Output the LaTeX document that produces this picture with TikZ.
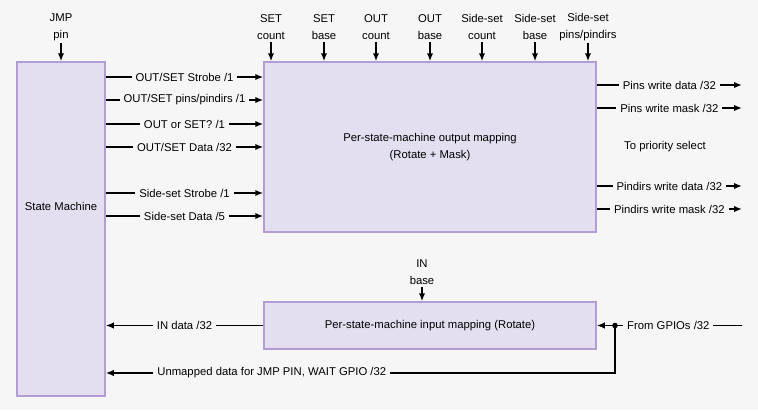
\documentclass[tikz,border=0pt]{standalone}
\usepackage{fontspec}
\setmainfont{Liberation Sans}
\usepackage{xcolor}
\usetikzlibrary{positioning, arrows.meta}
\definecolor{fondo}{HTML}{F6F6F6}
\definecolor{caja}{HTML}{E3DFF0}
\definecolor{borde}{HTML}{B29ED4}

\begin{document}
\begin{tikzpicture}[
    x=1pt, y=-1pt,
    every node/.style={font=\fontsize{11.3}{17}\selectfont, align=center, inner sep=2pt},
    box/.style={draw=borde, fill=caja, line width=1.5pt},
    lbl/.style={fill=fondo, inner xsep=4pt},
    sig/.style={line width=1.9pt, black},
    >={Latex[length=8pt, width=6.5pt]} % punta de flecha
]
\useasboundingbox[fill=fondo] (0,0) rectangle (758,410);

% Cajas
\node[box, minimum width=88pt, minimum height=334pt] (sm) at (61,229) {};
\node (smtxt) at (61,206) {State Machine};
\node[box, minimum width=332pt, minimum height=170pt] (outmap) at (430,147)
    {Per-state-machine output mapping\\(Rotate + Mask)};
\node[box, minimum width=332pt, minimum height=47pt] (inmap) at (430,325.5)
    {Per-state-machine input mapping (Rotate)};

% Entradas de arriba
\node (jmp) at (61,27) {JMP\\pin};
\draw[sig, ->] (jmp) -- (jmp |- sm.north);
\foreach \x/\t [count=\i] in {271/{SET\\count}, 324/{SET\\base}, 376/{OUT\\count},
    430/{OUT\\base}, 482/{Side-set\\count}, 535/{Side-set\\base}, 588/{Side-set\\pins/pindirs}}
{
    \node (top\i) at (\x,27) {\t};
    \draw[sig, ->] (top\i) -- (top\i |- outmap.north);
}

% Flechas de la maquina de estados al mapeo de salida
\foreach \y/\t in {77/{OUT/SET Strobe /1}, 100/{OUT/SET pins/pindirs /1},
    124/{OUT or SET? /1}, 147/{OUT/SET Data /32}, 193/{Side-set Strobe /1}, 216/{Side-set Data /5}}
    \draw[sig, ->] (sm.east |- 0,\y) -- node[lbl] {\t} (outmap.west |- 0,\y);

% Salidas a la derecha
\coordinate (dst) at (742,0);
\foreach \y/\t in {85/{Pins write data /32}, 108/{Pins write mask /32},
    186/{Pindirs write data /32}, 209/{Pindirs write mask /32}}
    \draw[sig, ->] (outmap.east |- 0,\y) -- node[lbl] {\t} (dst |- 0,\y);
\node (prio) at (665,147) {To priority select};

% Mapeo de entrada
\node (inb) at (422,272) {IN\\base};
\draw[sig, ->] (inb) -- (inb |- inmap.north);
\draw[sig, ->] (inmap.west) -- node[lbl] {IN data /32} (sm.east |- inmap.west);

\coordinate (gpio) at (742,325.5);
\coordinate (jn) at (615,325.5);
\draw[sig] (gpio) -- node[lbl, pos=0.58] {From GPIOs /32} (jn);
\draw[sig, ->] (jn) -- (inmap.east);
\fill (jn) circle (2.8pt);
\draw[sig, ->] (jn) |- node[lbl, pos=0.837] {Unmapped data for JMP PIN, WAIT GPIO /32} (sm.east |- 0,373);

\end{tikzpicture}
\end{document}
